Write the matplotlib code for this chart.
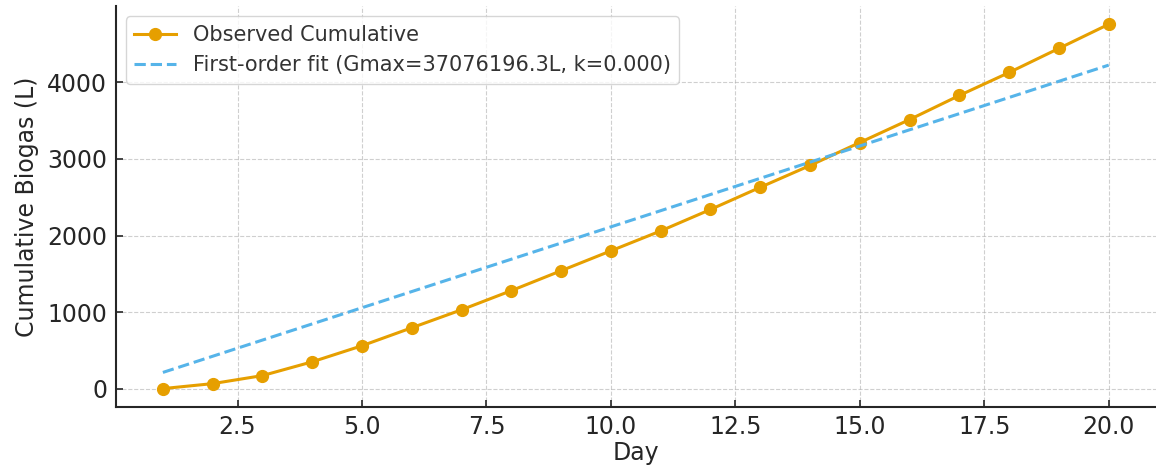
import numpy as np
import matplotlib
matplotlib.use("Agg")
import matplotlib.pyplot as plt

days = [1, 2, 3, 4, 5, 6, 7, 8, 9, 10, 11, 12, 13, 14, 15, 16, 17, 18, 19, 20]
observed = [0, 65, 170, 350, 560, 795, 1030, 1280, 1540, 1800, 2060, 2340,
            2630, 2915, 3215, 3515, 3830, 4130, 4445, 4760]
gmax = 37076196.3
k_rate = 5.7e-6

fit = gmax * (1 - np.exp(-k_rate * np.array(days)))

plt.rcParams['font.family'] = ['DejaVu Sans']
plt.rcParams['text.color'] = '#262626'
fig = plt.figure(figsize=(11.56, 4.66), dpi=100)
ax = fig.add_axes([0.1, 0.127, 0.9, 0.86])

ax.plot(days, observed, color='#E69F00', marker='o', markersize=8.5, linewidth=2.2,
        label='Observed Cumulative')
ax.plot(days, fit, color='#56B4E9', linestyle='--', linewidth=2.2,
        label=f'First-order fit (Gmax={gmax:.1f}L, k={k_rate:.3f})')

ax.grid(True, linestyle='--', color='#b0b0b0', alpha=0.6, linewidth=0.8)
ax.set_xticks([2.5, 5.0, 7.5, 10.0, 12.5, 15.0, 17.5, 20.0])
ax.set_yticks([0, 1000, 2000, 3000, 4000])
ax.tick_params(direction='in', labelsize=17, length=5, width=1.2, colors='#262626', pad=6)
for s in ['top', 'right']:
    ax.spines[s].set_visible(False)
for s in ['left', 'bottom']:
    ax.spines[s].set_linewidth(1.5)
    ax.spines[s].set_color('#262626')
ax.set_xlabel('Day', fontsize=17, labelpad=1, color='#262626')
ax.set_ylabel('Cumulative Biogas (L)', fontsize=17, labelpad=6, color='#262626')
leg = ax.legend(loc='upper left', fontsize=15, frameon=True, borderaxespad=0.5,
                handlelength=2.0)
leg.get_frame().set_edgecolor('#cccccc')
for t in leg.get_texts():
    t.set_color('#333333')

fig.savefig('out.png', dpi=100)
